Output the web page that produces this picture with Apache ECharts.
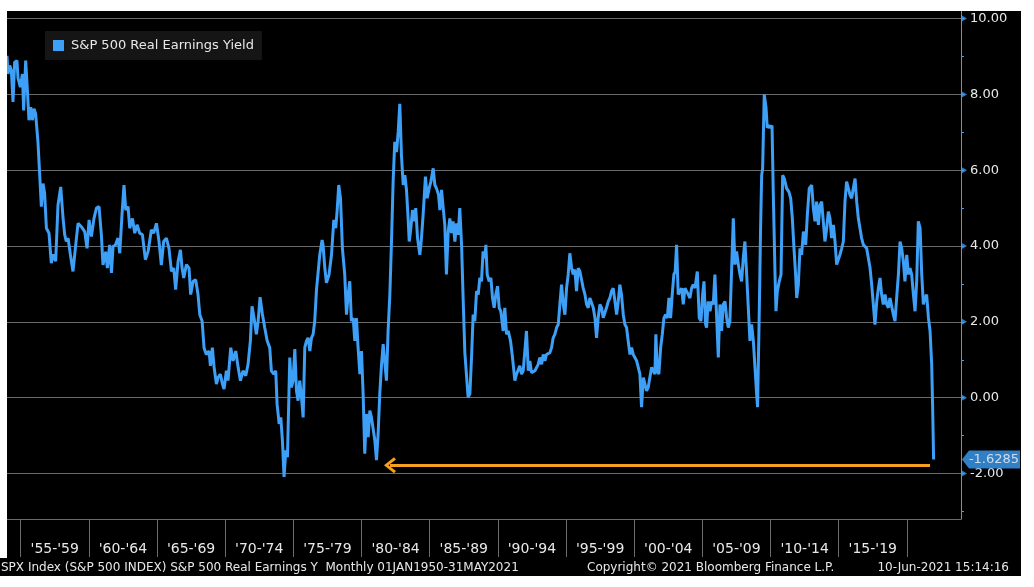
<!DOCTYPE html>
<html>
<head>
<meta charset="utf-8">
<script src="https://cdn.jsdelivr.net/npm/echarts@6/dist/echarts.min.js"></script>
<style>
html,body{margin:0;padding:0;background:#fff;}
#chart{width:1034px;height:587px;}
</style>
</head>
<body>
<div id="chart"></div>
<script>
// ---- data (decimal years, real earnings yield %) ----
const dates = [
1953.46,1953.53,1953.66,1953.78,1953.90,1954.02,1954.19,1954.27,1954.44,1954.59,1954.68,1954.83,1954.95,
1955.07,1955.20,1955.32,1955.44,1955.56,1955.73,1955.86,1955.98,1956.10,1956.22,1956.35,1956.54,1956.71,1956.84,
1957.03,1957.20,1957.40,1957.57,1957.69,1957.81,1957.94,1958.11,1958.30,1958.50,1958.67,1958.91,1959.16,1959.33,
1959.48,1959.65,1959.84,1960.02,1960.21,1960.38,1960.50,1960.70,1960.82,1960.99,1961.12,1961.24,1961.41,1961.60,
1961.73,1961.90,1962.04,1962.17,1962.34,1962.46,1962.66,1962.83,1963.00,1963.19,1963.39,1963.61,1963.81,1964.05,
1964.22,1964.42,1964.61,
1964.78,1964.95,1965.15,1965.34,1965.52,1965.69,1965.83,1966.01,1966.18,1966.30,1966.42,1966.62,1966.81,1966.93,
1967.11,1967.30,1967.47,1967.60,1967.77,1967.91,1968.08,1968.28,1968.38,1968.52,1968.65,1968.82,1968.94,1969.11,
1969.26,1969.38,1969.55,1969.67,1969.87,1970.04,1970.24,1970.41,1970.58,1970.77,1970.97,1971.14,1971.31,1971.43,
1971.58,1971.75,1971.88,1972.02,1972.19,1972.36,1972.54,1972.73,1972.85,1973.03,1973.17,1973.27,1973.42,1973.54,
1973.66,1973.78,1973.91,1974.03,1974.20,1974.32,1974.44,1974.57,1974.69,1974.81,1974.93,1975.06,1975.18,1975.30,
1975.42,1975.54,1975.67,1975.79,1975.91,1976.03,1976.16,1976.28,1976.40,1976.57,
1976.64,1976.77,1976.89,1977.08,1977.26,1977.43,1977.57,1977.67,1977.79,1977.92,1978.06,1978.23,1978.36,1978.48,
1978.60,1978.72,1978.85,1978.97,1979.09,1979.21,1979.34,1979.46,1979.58,1979.70,1979.82,1979.95,1980.07,1980.19,
1980.31,1980.44,1980.56,1980.68,1980.80,1980.93,1981.05,1981.17,1981.29,1981.41,1981.54,1981.66,1981.78,1981.90,
1982.03,1982.15,1982.27,1982.39,1982.52,1982.64,1982.76,1982.88,1982.96,1983.08,1983.20,1983.32,1983.44,1983.57,
1983.74,1983.86,1983.98,1984.15,1984.28,1984.42,1984.55,1984.72,1984.84,1984.96,1985.11,1985.21,1985.33,1985.45,
1985.57,1985.69,1985.82,1985.94,1986.06,1986.18,1986.31,1986.43,1986.55,1986.67,1986.80,1986.92,1987.04,1987.16,
1987.28,1987.41,1987.53,1987.65,1987.77,1987.90,1988.02,1988.14,1988.26,1988.38,
1988.51,1988.58,1988.68,1988.82,1988.95,1989.07,1989.19,1989.31,1989.44,1989.56,1989.68,1989.85,1989.97,1990.10,
1990.22,1990.39,1990.51,1990.71,1990.83,1990.95,1991.07,1991.20,1991.32,1991.44,1991.56,1991.69,1991.81,1991.93,
1992.05,1992.18,1992.30,1992.42,1992.54,1992.67,1992.79,1992.91,1993.03,1993.15,1993.28,1993.40,1993.52,1993.64,
1993.77,1993.89,1994.01,1994.13,1994.26,1994.38,1994.50,1994.62,1994.74,1994.87,1994.99,1995.11,1995.23,1995.36,
1995.48,1995.60,1995.72,1995.85,1995.97,1996.09,1996.21,1996.33,1996.46,1996.58,1996.70,1996.82,1996.95,1997.07,
1997.19,1997.31,1997.43,1997.56,1997.68,1997.80,1997.92,1998.05,1998.17,1998.29,1998.41,1998.53,1998.66,1998.78,
1998.90,1999.02,1999.15,1999.27,1999.39,1999.51,1999.64,1999.76,1999.88,2000.00,2000.13,2000.25,
2000.37,2000.49,2000.61,2000.74,2000.86,2000.98,2001.05,2001.15,2001.27,2001.40,2001.52,2001.64,2001.76,2001.89,
2002.01,2002.13,2002.25,2002.37,2002.47,2002.57,2002.69,2002.82,2002.94,2003.06,2003.18,2003.30,2003.43,2003.55,
2003.67,2003.79,2003.92,2004.09,2004.23,2004.36,2004.48,2004.58,2004.70,2004.77,2004.89,2005.02,2005.14,2005.26,
2005.38,2005.51,2005.63,2005.75,2005.87,2005.99,2006.12,2006.24,2006.36,2006.48,2006.61,2006.73,2006.85,2006.97,
2007.10,2007.22,2007.34,2007.46,2007.58,2007.71,2007.83,2007.95,2008.07,2008.20,2008.32,2008.44,2008.51,2008.64,
2008.73,2008.81,2008.88,2009.00,2009.13,2009.22,2009.35,2009.47,2009.57,2009.66,2009.79,2009.86,2009.96,2010.10,
2010.23,2010.35,2010.47,2010.64,2010.81,2010.94,2011.06,2011.18,2011.30,2011.38,2011.50,2011.62,2011.74,2011.87,
2011.99,
2012.04,2012.16,2012.30,2012.48,2012.60,2012.72,2012.84,2012.97,2013.09,2013.21,2013.33,2013.45,2013.58,2013.70,
2013.82,2013.94,2014.07,2014.19,2014.31,2014.43,2014.55,2014.68,2014.80,2014.92,2015.04,2015.17,2015.29,2015.41,
2015.53,2015.66,2015.78,2015.90,2016.02,2016.14,2016.27,2016.51,2016.63,2016.76,2016.88,2017.00,2017.12,2017.25,
2017.37,2017.49,2017.61,2017.73,2017.86,2017.98,2018.10,2018.22,2018.35,2018.47,2018.59,2018.71,2018.84,2018.96,
2019.08,2019.20,2019.32,2019.45,2019.57,2019.69,2019.81,2019.94,2020.06,2020.18,2020.30,2020.43,2020.55,2020.67,
2020.79,2020.91,2021.04,2021.16,2021.28,2021.35,2021.42
];
const yields = [
9.02,8.54,8.76,8.63,7.80,8.85,8.89,8.42,8.19,8.54,7.58,8.89,8.15,
7.32,7.66,7.32,7.62,7.49,6.75,5.87,5.04,5.65,5.39,4.47,4.34,3.55,3.78,
3.60,5.08,5.56,4.74,4.30,4.12,4.21,3.77,3.33,4.03,4.60,4.51,4.38,3.94,
4.69,4.25,4.73,5.00,5.04,4.30,3.50,3.85,3.42,4.03,3.29,3.99,4.03,4.21,
3.81,4.86,5.61,4.95,5.04,4.47,4.73,4.34,4.56,4.34,4.30,3.64,3.86,4.43,
4.34,4.60,4.12,
3.50,4.12,4.21,3.94,3.33,3.42,2.85,3.60,3.90,3.42,3.16,3.51,3.42,2.72,
3.07,3.11,2.72,2.19,2.02,1.32,1.14,1.23,0.84,1.32,0.80,0.36,0.53,0.62,
0.36,0.23,0.71,0.45,1.32,0.97,1.23,0.80,0.45,0.71,0.58,0.88,1.50,2.41,
2.10,1.67,2.02,2.65,2.21,1.85,1.50,1.32,0.71,0.62,0.71,-0.17,-0.69,-0.52,
-1.13,-2.09,-1.39,-1.57,1.06,0.27,0.45,1.28,0.18,-0.08,0.45,0.01,-0.52,1.32,
1.49,1.58,1.23,1.58,1.67,2.02,2.85,2.89,3.77,4.16,
4.03,3.42,3.03,3.25,3.77,4.69,4.47,4.91,5.61,5.26,3.94,3.25,2.19,2.72,
3.07,2.02,2.10,1.50,2.10,1.32,0.62,1.23,0.10,-1.48,-0.43,-1.04,-0.34,-0.52,
-0.52,-1.13,-1.65,-0.95,0.10,0.88,1.41,1.41,0.45,1.76,2.72,4.12,5.70,6.75,
6.48,7.01,7.75,6.40,5.61,5.87,5.48,4.73,4.12,4.47,4.95,4.65,5.00,4.21,
3.77,4.21,4.82,5.83,5.26,5.52,5.70,6.05,5.61,5.52,5.35,4.95,5.48,5.52,
4.56,3.25,4.38,4.73,4.34,4.65,4.12,4.60,4.30,5.00,4.03,2.55,1.19,1.23,
0.01,0.10,1.06,2.19,2.02,2.81,2.72,3.16,3.07,3.86,
3.68,4.03,3.25,3.07,3.16,2.63,2.37,2.72,2.94,2.37,2.28,1.76,2.37,1.67,
1.76,1.50,1.14,0.45,0.62,0.62,0.84,0.62,0.71,1.23,1.76,0.71,0.97,0.66,
0.62,0.71,0.66,0.88,1.06,0.88,1.14,0.97,1.14,1.10,1.19,1.32,1.58,1.67,
1.85,1.93,2.46,2.98,2.46,2.19,2.89,3.25,3.81,3.42,3.25,3.38,2.81,3.42,
3.33,3.11,2.89,2.72,2.46,2.37,2.63,2.59,2.37,2.11,1.58,2.11,2.46,2.37,
2.11,2.11,2.37,2.54,2.63,2.81,2.89,2.54,2.19,2.54,2.98,2.72,2.19,1.93,
1.85,1.50,1.14,1.32,1.14,1.06,0.97,0.80,0.62,-0.25,0.53,0.36,
0.18,0.27,0.53,0.80,0.71,0.62,1.67,0.71,0.62,1.32,1.67,2.10,2.19,2.10,
2.63,2.10,2.72,3.25,3.33,4.03,2.72,2.72,2.89,2.46,2.89,2.81,2.72,2.63,
2.89,2.98,2.89,3.33,2.11,2.02,2.72,3.07,1.93,1.85,2.54,2.28,2.54,2.46,
3.25,2.11,1.06,2.46,1.76,2.46,2.54,2.11,1.85,2.02,3.42,4.73,3.51,3.86,
3.51,3.25,3.07,3.68,4.12,3.25,2.37,1.50,1.93,1.50,0.80,0.10,-0.25,2.37,
4.47,5.87,6.04,8.00,7.65,7.12,7.18,7.12,7.18,5.43,3.25,2.28,2.81,3.07,
3.25,5.87,5.78,5.52,5.43,5.26,4.73,3.94,3.25,2.63,2.98,3.94,3.77,4.38,
4.21,
4.03,4.82,5.52,5.61,5.00,4.65,5.17,4.56,5.08,5.17,4.65,4.12,4.47,4.91,
4.73,4.21,4.56,4.12,3.51,3.51,3.77,3.94,4.12,5.17,5.70,5.52,5.35,5.26,
5.52,5.78,5.17,4.73,4.47,4.21,4.03,3.94,3.94,3.42,2.98,2.46,1.93,2.54,
2.89,3.16,2.72,2.46,2.72,2.46,2.37,2.63,2.63,2.19,2.02,2.63,3.25,4.12,
3.94,3.60,3.07,3.77,3.25,3.42,3.25,2.72,2.28,3.07,4.65,4.47,3.25,2.46,
2.63,2.72,2.11,1.76,0.88,-0.25,-1.6285
];

// axis ticks / labels
const periodLabels = ["'55-'59","'60-'64","'65-'69","'70-'74","'75-'79","'80-'84","'85-'89","'90-'94","'95-'99","'00-'04","'05-'09","'10-'14","'15-'19"];
const firstBandStart = 1954.46;   // position of first period separator
const bandYears = 5;
const yMajorTicks = [-2,0,2,4,6,8,10];
const yMinorTicks = [-3,-1,1,3,5,7,9];
const arrowFrom = [2021.16, -1.78];
const arrowTo = [1981.55, -1.78];

const xMin = 1953.46, xMax = 2023.43, yMin = -3.2, yMax = 10.2;
const bandBounds = periodLabels.map((_, i) => firstBandStart + i * bandYears).concat([firstBandStart + periodLabels.length * bandYears]);
const bandMids = periodLabels.map((_, i) => firstBandStart + i * bandYears + bandYears / 2);

const BLUE = '#3d9ff5';
const GRID = '#6a6a6a';
const TXT = '#e8e8e8';
const FONT = 'DejaVu Sans';

const chart = echarts.init(document.getElementById('chart'), null, {renderer: 'canvas'});
const lastVal = yields[yields.length - 1];

chart.setOption({
  backgroundColor: '#000',
  animation: false,
  grid: {left: 7, right: 73, top: 11, bottom: 68, containLabel: false},
  legend: {
    data: [{name: 'S&P 500 Real Earnings Yield', icon: 'rect'}],
    left: 45, top: 31,
    padding: [8, 8, 8, 8],
    itemWidth: 11, itemHeight: 11,
    backgroundColor: '#151515',
    selectedMode: false,
    textStyle: {color: TXT, fontFamily: FONT, fontSize: 13, padding: [0, 0, 0, 2]}
  },
  xAxis: {
    type: 'value', min: xMin, max: xMax,
    axisLine: {show: true, onZero: false, lineStyle: {color: GRID, width: 1}},
    axisTick: {show: true, customValues: bandBounds, length: 38, lineStyle: {color: GRID, width: 1}},
    axisLabel: {
      show: true, customValues: bandMids, margin: 23,
      color: TXT, fontFamily: FONT, fontSize: 14,
      formatter: v => periodLabels[Math.round((v - firstBandStart - bandYears / 2) / bandYears)] || ''
    },
    splitLine: {show: false}
  },
  yAxis: [{
    type: 'value', position: 'right', min: yMin, max: yMax,
    axisLine: {show: true, lineStyle: {color: BLUE, width: 1}},
    axisTick: {show: true, customValues: yMajorTicks, length: 3, lineStyle: {color: BLUE}},
    axisLabel: {show: true, customValues: yMajorTicks, margin: 9, color: TXT, fontFamily: FONT, fontSize: 13,
      formatter: v => v.toFixed(2)},
    splitLine: {show: true, lineStyle: {color: GRID, width: 1}}
  }, {
    type: 'value', position: 'right', min: yMin, max: yMax,
    axisLine: {show: false},
    axisTick: {show: true, customValues: yMinorTicks, length: 3, lineStyle: {color: BLUE}},
    axisLabel: {show: false},
    splitLine: {show: false}
  }],
  series: [{
    name: 'S&P 500 Real Earnings Yield',
    type: 'line',
    data: dates.map((d, i) => [d, yields[i]]),
    showSymbol: false,
    symbol: 'none',
    lineStyle: {color: BLUE, width: 3},
    itemStyle: {color: BLUE},
    z: 3,
    markLine: {
      silent: true,
      symbol: ['none', 'path://M9,0 L18,10 L15.5,12 L9,4.5 L2.5,12 L0,10 Z'],
      symbolSize: [16, 12],
      lineStyle: {color: '#f5a01e', width: 3, type: 'solid'},
      label: {show: false},
      data: [[{coord: arrowFrom}, {coord: arrowTo}]]
    }
  }, {
    name: 'ticks',
    type: 'scatter',
    yAxisIndex: 0,
    silent: true,
    clip: false,
    symbol: 'triangle',
    symbolSize: [7, 6],
    symbolRotate: -90,
    symbolOffset: [3, 0],
    itemStyle: {color: BLUE},
    data: yMajorTicks.map(v => [xMax, v]),
    z: 4
  }, {
    name: 'last',
    type: 'scatter',
    silent: true,
    clip: false,
    symbol: 'path://M0,9 L7,0 L58,0 L58,18 L7,18 Z',
    symbolSize: [58, 18],
    symbolKeepAspect: false,
    symbolOffset: [30, 0],
    itemStyle: {color: BLUE},
    label: {show: true, position: 'inside', offset: [3, 0], color: '#f4f4f4', fontFamily: FONT, fontSize: 13,
      formatter: p => p.value[1].toFixed(4)},
    data: [[xMax, lastVal]],
    z: 6
  }],
  graphic: [
    {type: 'rect', shape: {x: 0, y: 0, width: 1034, height: 11}, style: {fill: '#fff'}, z: 100, silent: true},
    {type: 'rect', shape: {x: 0, y: 0, width: 7, height: 558}, style: {fill: '#fff'}, z: 100, silent: true},
    {type: 'rect', shape: {x: 1021, y: 0, width: 13, height: 587}, style: {fill: '#fff'}, z: 100, silent: true},
    {type: 'rect', shape: {x: 0, y: 576, width: 1034, height: 11}, style: {fill: '#fff'}, z: 100, silent: true},
    {type: 'text', x: 1, y: 568, style: {text: 'SPX Index (S&P 500 INDEX) S&P 500 Real Earnings Y  Monthly 01JAN1950-31MAY2021', fill: TXT, font: '12px "DejaVu Sans"', textVerticalAlign: 'middle'}, z: 101},
    {type: 'text', x: 587, y: 568, style: {text: 'Copyright\u00a9 2021 Bloomberg Finance L.P.', fill: TXT, font: '12px "DejaVu Sans"', textVerticalAlign: 'middle'}, z: 101},
    {type: 'text', x: 1009, y: 568, style: {text: '10-Jun-2021 15:14:16', fill: TXT, font: '12px "DejaVu Sans"', textAlign: 'right', textVerticalAlign: 'middle'}, z: 101}
  ]
});
</script>
</body>
</html>
